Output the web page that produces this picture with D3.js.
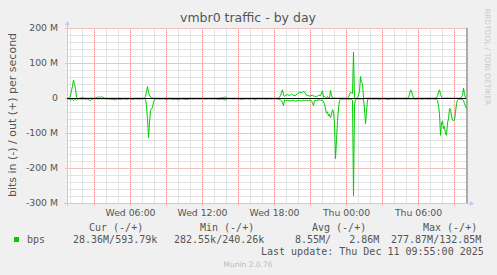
<!DOCTYPE html>
<html>
<head>
<meta charset="utf-8">
<script src="https://cdn.jsdelivr.net/npm/d3@7"></script>
<style>
  body { margin: 0; background: #f0f0f0; }
  svg { display: block; }
  text { fill: #555; }
</style>
</head>
<body>
<script>
// legend / labels
const title = 'vmbr0 traffic - by day'
const yLabel = 'bits in (-) / out (+) per second'
const legendHeads = ['Cur (-/+)', 'Min (-/+)', 'Avg (-/+)', 'Max (-/+)']
const legendVals = ['28.36M/593.79k', '282.55k/240.26k', '8.55M/   2.86M', '277.87M/132.85M']
const lastUpdate = 'Last update: Thu Dec 11 09:55:00 2025'

const yTicks = [200e6, 100e6, 0, -100e6, -200e6, -300e6]

// samples: minutes since Wed 10 Dec 00:00, out and in (Mbit/s)
const minutes = [45, 55, 60, 65, 70, 75, 80, 85, 90, 95, 100, 110, 120, 130, 145, 155, 160, 165, 180, 195,
  205, 210, 215, 220, 230, 250, 270, 285, 295, 310, 325, 340, 355, 370, 385, 400, 415, 430, 435, 440,
  445, 450, 455, 460, 465, 470, 475, 480, 495, 510, 525, 540, 555, 570, 585, 600, 615, 630, 645, 660,
  675, 690, 705, 720, 735, 750, 765, 780, 795, 805, 815, 825, 835, 845, 860, 875, 890, 905, 915, 925,
  940, 955, 970, 985, 995, 1010, 1025, 1040, 1055, 1070, 1085, 1100, 1110, 1115, 1120, 1125, 1130, 1135, 1145, 1155,
  1165, 1175, 1185, 1195, 1205, 1215, 1225, 1230, 1240, 1250, 1260, 1270, 1275, 1280, 1290, 1300, 1310, 1320, 1325, 1330,
  1335, 1340, 1345, 1350, 1355, 1360, 1365, 1370, 1375, 1380, 1385, 1390, 1395, 1400, 1405, 1415, 1430, 1445, 1450, 1455,
  1460, 1465, 1470, 1475, 1480, 1485, 1495, 1505, 1510, 1515, 1520, 1525, 1530, 1535, 1540, 1545, 1560, 1575, 1590, 1605,
  1620, 1635, 1650, 1665, 1680, 1695, 1710, 1725, 1740, 1750, 1755, 1760, 1765, 1770, 1775, 1790, 1805, 1820, 1835, 1850,
  1865, 1880, 1890, 1895, 1900, 1905, 1910, 1915, 1920, 1925, 1930, 1935, 1940, 1945, 1950, 1955, 1960, 1965, 1970, 1975,
  1980, 1985, 1990, 1995, 2000, 2010, 2020, 2025, 2030, 2035, 2040]

const outMbps = [1, 1.2, 8, 23, 35, 53, 40, 29, 3, 1.5, 0.5, 1.2, 3, 1, 0.8, 1, 0.6, 1, 1.2, 3,
  5, 2, 6, 4, 1, 0.8, 1, 0.7, 1, 1.2, 0.9, 1, 0.8, 1, 1.1, 1, 0.9, 1.5, 6, 20,
  34, 18, 9, 4, 3, 1.5, 1, 0.8, 1, 0.8, 1, 1.2, 0.9, 1, 1, 0.8, 1, 1.1, 0.9, 1,
  1, 0.8, 1, 1, 0.9, 1, 0.8, 1, 1, 1.5, 2, 3, 4.5, 1, 0.8, 1, 1, 0.9, 1, 1,
  0.8, 1, 1, 1, 1, 0.9, 1, 1, 0.8, 1, 1, 1, 8, 18, 25, 10, 6, 9, 11, 8,
  13, 9, 8, 14, 18, 17, 20, 19, 9, 8, 7, 10, 6, 7, 5, 9, 8, 22, 4, 6,
  3, 2, 6, 2, 1, 23, 9, 2, 1, 1, 1.5, 1, 0.5, 1, 1, 1, 0.8, 1, 4, 12,
  18, 16, 14, 132.85, 2, 1, 1, 20, 63, 45, 43, 1, 1, 0.8, 1, 1, 0.9, 1, 1, 0.8,
  1, 1, 0.9, 1, 1, 1, 0.8, 1, 1, 2, 12, 24, 22, 10, 1, 0.8, 1, 1, 0.9, 1,
  1, 1.2, 2, 8, 18, 25, 12, 4, 2, 1, 1.5, 1, 1, 2, 1, 1, 1.5, 1, 1, 1,
  1, 1, 1.5, 1, 1, 1, 8, 30, 12, 2, 0.59]

const inMbps = [1.5, 1, 5, 3, 2, 6, 4, 2, 5, 3, 1, 2, 1, 1.5, 2, 5, 6, 2, 1, 1,
  0.8, 1, 1.2, 0.5, 1, 1.5, 2.5, 4, 1.5, 3, 1, 2.5, 1, 3, 1, 2, 1.2, 1, 3, 20,
  60, 112, 70, 34, 30, 25, 12, 2, 1, 2, 1, 3, 1, 3, 2, 3.5, 1, 2.5, 3, 1,
  2, 1, 1.5, 1, 2, 1, 1.5, 1, 2, 3, 1.5, 3, 4, 1, 1, 1.5, 1, 2, 3, 2,
  1, 2, 1, 3.5, 1, 1.5, 1, 2, 1, 1.5, 1, 2, 4, 6, 12, 20, 4, 6, 5, 7,
  6, 5, 8, 6, 5, 7, 4, 6, 5, 6, 4, 12, 20, 6, 5, 4, 5, 5, 10, 15,
  30, 42, 38, 50, 45, 55, 45, 32, 38, 70, 172, 120, 63, 30, 5, 2, 1.5, 2, 3, 2,
  3.5, 2, 5, 277.87, 20, 2, 1, 2, 1.5, 1, 2, 1.5, 30, 72, 40, 2, 1, 2, 1, 2.5,
  1, 1.5, 3, 1, 2, 1, 1.5, 1, 2, 1, 1.5, 1, 1.2, 1, 1.5, 2, 1, 2, 1, 2,
  1, 1.5, 2, 5, 20, 44, 105, 70, 64, 86, 80, 101, 105, 70, 58, 29, 30, 50, 62, 63,
  61, 40, 15, 5, 2, 1.5, 3, 5, 15, 22, 28.36]

const W = 497, H = 275
const pL = 67, pR = 467, pT = 28, pB = 203

const svg = d3.select('body').append('svg')
  .attr('width', W)
  .attr('height', H)

const day0 = new Date(2025, 11, 10, 0, 0)
const toDate = m => new Date(day0.getTime() + m * 60000)

const x = d3.scaleTime()
  .domain([toDate(45), toDate(2045)])
  .range([pL, pR])
const y = d3.scaleLinear()
  .domain([-300e6, 200e6])
  .range([pB, pT])

// plot background
svg.append('rect')
  .attr('x', pL).attr('y', pT)
  .attr('width', pR - pL).attr('height', pB - pT)
  .attr('fill', '#fff')

// grid: minor first, then major on top
const vGrid = (ticks, col, ext, dash) => svg.append('g').selectAll('line')
  .data(ticks).enter().append('line')
  .attr('x1', d => Math.round(x(d)) + 0.5).attr('x2', d => Math.round(x(d)) + 0.5)
  .attr('y1', pT).attr('y2', pB + ext)
  .attr('stroke', col).attr('stroke-dasharray', dash)
const hGrid = (ticks, col, ext, dash) => svg.append('g').selectAll('line')
  .data(ticks).enter().append('line')
  .attr('x1', pL - ext).attr('x2', pR)
  .attr('y1', d => Math.round(y(d)) + 0.5).attr('y2', d => Math.round(y(d)) + 0.5)
  .attr('stroke', col).attr('stroke-dasharray', dash)

vGrid(x.ticks(d3.timeHour.every(1)), '#e2e2e2', 0, null)
hGrid(d3.range(-300e6, 200e6 + 1, 20e6), '#e2e2e2', 0, null)
vGrid(x.ticks(d3.timeHour.every(3)), '#e88c8c', 2, '1 1')
hGrid(yTicks, '#f2c0c0', 2, null)

// tick labels
const yAxis = svg.append('g')
  .attr('transform', 'translate(' + (pL - 6) + ',0)')
  .call(d3.axisLeft(y).tickValues(yTicks).tickSize(0)
    .tickFormat(d => d === 0 ? '0' : (d / 1e6) + ' M'))
yAxis.select('.domain').remove()
yAxis.selectAll('text').attr('font-family', 'DejaVu Sans').attr('font-size', 9.3).attr('fill', '#555')

const xAxis = svg.append('g')
  .attr('transform', 'translate(0,' + (pB + 3) + ')')
  .call(d3.axisBottom(x).ticks(d3.timeHour.every(6)).tickSize(0)
    .tickFormat(d3.timeFormat('%a %H:%M')))
xAxis.select('.domain').remove()
xAxis.selectAll('text').attr('font-family', 'DejaVu Sans').attr('font-size', 9.3).attr('fill', '#555')

// right frame line
svg.append('line')
  .attr('x1', pR).attr('x2', pR)
  .attr('y1', pT).attr('y2', pB)
  .attr('stroke', '#999').attr('stroke-width', 1.5)

// axis lines with arrows
const axisCol = '#c8c8f0'
svg.append('line')
  .attr('x1', pL + 0.5).attr('x2', pL + 0.5).attr('y1', pB + 3).attr('y2', pT - 4)
  .attr('stroke', axisCol)
svg.append('path')
  .attr('d', 'M' + (pL - 2) + ',' + (pT - 3) + 'L' + (pL + 0.5) + ',' + (pT - 7) + 'L' + (pL + 3) + ',' + (pT - 3) + 'Z')
  .attr('fill', axisCol)
svg.append('line')
  .attr('x1', pL - 3).attr('x2', pR + 3).attr('y1', pB + 0.5).attr('y2', pB + 0.5)
  .attr('stroke', axisCol)
svg.append('path')
  .attr('d', 'M' + (pR + 3) + ',' + (pB - 2) + 'L' + (pR + 7) + ',' + (pB + 0.5) + 'L' + (pR + 3) + ',' + (pB + 3) + 'Z')
  .attr('fill', axisCol)

// series
const samples = minutes.map((m, i) => ({ t: toDate(m), out: outMbps[i] * 1e6, inn: inMbps[i] * 1e6 }))

svg.append('path')
  .datum(samples)
  .attr('fill', 'none')
  .attr('stroke', '#00cc00')
  .attr('d', d3.line().x(d => x(d.t) + 0.5).y(d => y(-d.inn) + 0.5))
svg.append('path')
  .datum(samples)
  .attr('fill', 'none')
  .attr('stroke', '#00cc00')
  .attr('d', d3.line().x(d => x(d.t) + 0.5).y(d => y(d.out) + 0.5))

// zero rule
svg.append('line')
  .attr('x1', pL).attr('x2', pR - 1)
  .attr('y1', y(0) + 0.5).attr('y2', y(0) + 0.5)
  .attr('stroke', '#000')

// title & labels
svg.append('text')
  .attr('x', 248).attr('y', 22)
  .attr('text-anchor', 'middle')
  .attr('font-family', 'DejaVu Sans').attr('font-size', 12.5)
  .text(title)

svg.append('text')
  .attr('transform', 'translate(16,115) rotate(-90)')
  .attr('text-anchor', 'middle')
  .attr('font-family', 'DejaVu Sans').attr('font-size', 11)
  .text(yLabel)

svg.append('text')
  .attr('transform', 'translate(485,57) rotate(90)')
  .attr('text-anchor', 'middle')
  .attr('font-family', 'DejaVu Sans').attr('font-size', 7.5)
  .style('fill', '#c8c8c8')
  .text('RRDTOOL / TOBI OETIKER')

// legend
const headX = [89, 200, 312, 423]
const valX = [73, 174, 295, 391]
const mono = 'DejaVu Sans Mono'

svg.selectAll('.lhead').data(legendHeads).enter().append('text')
  .attr('class', 'lhead')
  .attr('x', (d, i) => headX[i]).attr('y', 231)
  .attr('font-family', mono).attr('font-size', 10)
  .text(d => d)

svg.append('rect')
  .attr('x', 14).attr('y', 237).attr('width', 5).attr('height', 5)
  .attr('fill', '#00cc00')
svg.append('text')
  .attr('x', 27).attr('y', 243)
  .attr('font-family', mono).attr('font-size', 10)
  .text('bps')

svg.selectAll('.lval').data(legendVals).enter().append('text')
  .attr('class', 'lval')
  .attr('x', (d, i) => valX[i]).attr('y', 243)
  .attr('font-family', mono).attr('font-size', 10)
  .style('white-space', 'pre')
  .text(d => d)

svg.append('text')
  .attr('x', 261).attr('y', 255)
  .attr('font-family', mono).attr('font-size', 10)
  .text(lastUpdate)

svg.append('text')
  .attr('x', 248).attr('y', 267)
  .attr('text-anchor', 'middle')
  .attr('font-family', 'DejaVu Sans').attr('font-size', 7.5)
  .style('fill', '#bbb')
  .text('Munin 2.0.76')
</script>
</body>
</html>
